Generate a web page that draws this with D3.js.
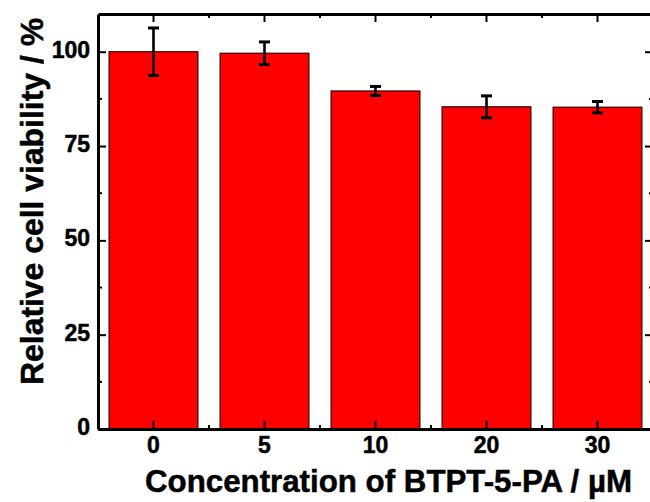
<!DOCTYPE html>
<html>
<head>
<meta charset="utf-8">
<script src="https://cdn.jsdelivr.net/npm/d3@7/dist/d3.min.js"></script>
<style>
  html, body { margin: 0; padding: 0; background: #fff; }
  svg { display: block; }
  svg text { font-family: "Liberation Sans", Arial, sans-serif; font-weight: bold; fill: #000; }
</style>
</head>
<body>
<svg id="chart" width="650" height="502"></svg>
<script>
// Cell viability after treatment with BTPT-5-PA
const concentrations = ["0", "5", "10", "20", "30"];
const viability = [100.0, 99.6, 89.6, 85.4, 85.3];
const viabilityErr = [6.3, 3.0, 1.2, 2.9, 1.5];
const yTicks = [0, 25, 50, 75, 100];
const yMinorTicks = [12.5, 37.5, 62.5, 87.5];

const svg = d3.select("#chart");
const plotLeft = 98, plotRight = 653, plotTop = 14, plotBottom = 429;

const x = d3.scaleBand()
  .domain(concentrations)
  .range([plotLeft, plotRight])
  .paddingInner(0.2)
  .paddingOuter(0.1);

const y = d3.scaleLinear().domain([0, 110]).range([plotBottom, plotTop]);

// bars
svg.append("g").selectAll("rect")
  .data(concentrations)
  .join("rect")
  .attr("x", d => x(d))
  .attr("width", x.bandwidth())
  .attr("y", (d, i) => y(viability[i]))
  .attr("height", (d, i) => y(0) - y(viability[i]))
  .attr("fill", "#ff0000")
  .attr("stroke", "#3a0000")
  .attr("stroke-width", 1.2);

// error bars
const eb = svg.append("g").attr("stroke", "#000").attr("stroke-width", 2.6);
concentrations.forEach((c, i) => {
  const cx = x(c) + x.bandwidth() / 2;
  const hi = y(viability[i] + viabilityErr[i]);
  const lo = y(viability[i] - viabilityErr[i]);
  eb.append("line").attr("x1", cx).attr("x2", cx).attr("y1", hi).attr("y2", lo);
  eb.append("line").attr("x1", cx - 5.5).attr("x2", cx + 5.5).attr("y1", hi).attr("y2", hi).attr("stroke-width", 3);
  eb.append("line").attr("x1", cx - 5.5).attr("x2", cx + 5.5).attr("y1", lo).attr("y2", lo).attr("stroke-width", 3);
});

// frame axes (lines only); ticks point inward on every side
const step = x.step();
const xMinor = concentrations.slice(0, -1).map(c => x(c) + x.bandwidth() / 2 + step / 2);

const frame = [
  [d3.axisBottom(x).tickSizeInner(-8).tickSizeOuter(0).tickFormat(""), `translate(0,${plotBottom})`],
  [d3.axisTop(x).tickSizeInner(-8).tickSizeOuter(0).tickFormat(""), `translate(0,${plotTop})`],
  [d3.axisLeft(y).tickValues(yTicks).tickSizeInner(-8).tickSizeOuter(0).tickFormat(""), `translate(${plotLeft},0)`],
  [d3.axisRight(y).tickValues(yTicks).tickSizeInner(-8).tickSizeOuter(0).tickFormat(""), `translate(${plotRight},0)`]
];
frame.forEach(([ax, tr]) => {
  const g = svg.append("g").attr("transform", tr).call(ax);
  g.select(".domain").attr("stroke", "#000").attr("stroke-width", 3);
  g.selectAll(".tick line").attr("stroke", "#000").attr("stroke-width", 2);
  g.selectAll(".tick text").remove();
});

// minor ticks
const minorG = svg.append("g").attr("stroke", "#000").attr("stroke-width", 2);
yMinorTicks.forEach(v => {
  minorG.append("line").attr("x1", plotLeft).attr("x2", plotLeft + 4).attr("y1", y(v)).attr("y2", y(v));
  minorG.append("line").attr("x1", plotRight).attr("x2", plotRight - 4).attr("y1", y(v)).attr("y2", y(v));
});
xMinor.forEach(px => {
  minorG.append("line").attr("x1", px).attr("x2", px).attr("y1", plotBottom).attr("y2", plotBottom - 4);
  minorG.append("line").attr("x1", px).attr("x2", px).attr("y1", plotTop).attr("y2", plotTop + 4);
});

// tick labels
svg.append("g").selectAll("text")
  .data(concentrations)
  .join("text")
  .attr("x", d => x(d) + x.bandwidth() / 2)
  .attr("y", plotBottom + 24)
  .attr("text-anchor", "middle")
  .attr("font-size", "23px")
  .attr("stroke", "#000").attr("stroke-width", 0.5)
  .text(d => d);

svg.append("g").selectAll("text")
  .data(yTicks)
  .join("text")
  .attr("x", plotLeft - 8)
  .attr("y", d => y(d) + 6)
  .attr("text-anchor", "end")
  .attr("font-size", "23px")
  .attr("stroke", "#000").attr("stroke-width", 0.5)
  .text(d => d);

// axis titles
svg.append("text")
  .attr("x", 388.5).attr("y", 492)
  .attr("text-anchor", "middle")
  .attr("font-size", "32px")
  .attr("stroke", "#000").attr("stroke-width", 0.5)
  .attr("textLength", 487)
  .attr("lengthAdjust", "spacingAndGlyphs")
  .text("Concentration of BTPT-5-PA / µM");

svg.append("text")
  .attr("transform", "translate(43,201.5) rotate(-90)")
  .attr("text-anchor", "middle")
  .attr("font-size", "32px")
  .attr("stroke", "#000").attr("stroke-width", 0.5)
  .attr("textLength", 367)
  .attr("lengthAdjust", "spacingAndGlyphs")
  .text("Relative cell viability / %");
</script>
</body>
</html>
